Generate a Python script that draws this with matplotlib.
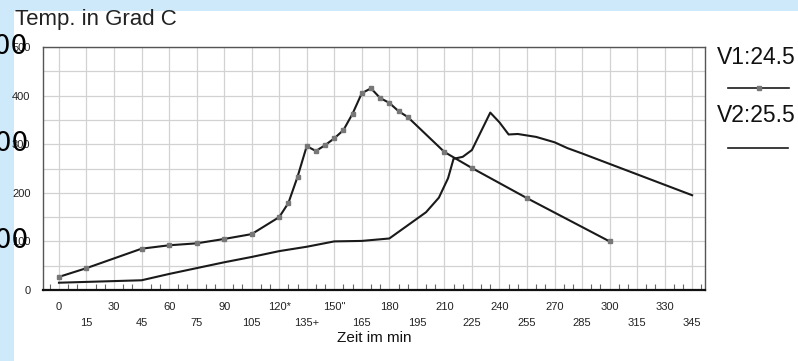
import numpy as np
import matplotlib.pyplot as plt
from matplotlib.patches import Rectangle
from matplotlib.ticker import MultipleLocator

# V1 (mit Punkten)
t1 = [0, 15, 45, 60, 75, 90, 105, 120, 125, 130, 135, 140, 145, 150, 155, 160,
      165, 170, 175, 180, 185, 190, 210, 225, 255, 300]
v1 = [27, 45, 85, 92, 96, 105, 115, 150, 179, 233, 296, 286, 298, 312, 329, 363,
      405, 415, 395, 385, 368, 356, 284, 251, 189, 100]

# V2 (ohne Punkte)
t2 = [0, 45, 60, 75, 90, 105, 120, 135, 150, 165, 180, 200, 207, 212, 215, 220,
      225, 235, 240, 245, 250, 260, 270, 277, 285, 345]
v2 = [15, 20, 33, 45, 57, 68, 80, 89, 100, 101, 106, 160, 190, 230, 270, 274,
      288, 365, 345, 320, 321, 315, 304, 292, 281, 195]

x_ticks = list(range(0, 346, 15))
x_labels = ['0', '15', '30', '45', '60', '75', '90', '105', '120*', '135+', '150"',
            '165', '180', '195', '210', '225', '240', '255', '270', '285', '300',
            '315', '330', '345']
y_ticks = [0, 100, 200, 300, 400, 500]
big_labels = ['500', '300', '100']

fig = plt.figure(figsize=(7.98, 3.61), dpi=100, facecolor='#cde9fa')
fig.patches.append(Rectangle((14 / 798, 0), 1, 350 / 361, transform=fig.transFigure,
                             facecolor='white', edgecolor='none', zorder=-5))

ax = fig.add_axes([43 / 798, 71 / 361, 662 / 798, 243 / 361])
ax.set_facecolor('white')

ax.plot(t1, v1, color='#1a1a1a', lw=1.5, marker='s', ms=2.5,
        mfc='#777777', mec='#777777')
ax.plot(t2, v2, color='#1a1a1a', lw=1.5)

ax.set_xlim(-8.7, 352)
ax.set_ylim(0, 500)

ax.set_xticks(x_ticks)
ax.set_xticklabels([l if i % 2 == 0 else '\n' + l for i, l in enumerate(x_labels)],
                   family='Liberation Sans', fontsize=8, color='#222222', linespacing=1.75)
ax.xaxis.set_minor_locator(MultipleLocator(5))
ax.tick_params(axis='x', which='major', length=0, pad=9)
ax.tick_params(axis='x', which='minor', direction='in', length=4, color='#666666', width=0.8)

ax.set_yticks(y_ticks)
ax.set_yticklabels([str(v) for v in y_ticks], family='Liberation Sans', fontsize=8,
                   color='#222222')
ax.yaxis.set_minor_locator(MultipleLocator(50))
ax.tick_params(axis='y', which='both', length=0, pad=9)

ax.grid(True, which='major', color='#d2d2d2', lw=0.9)
ax.grid(True, which='minor', axis='y', color='#d2d2d2', lw=0.9)
ax.set_axisbelow(True)

for s in ['left', 'top', 'right']:
    ax.spines[s].set_color('#555555')
    ax.spines[s].set_linewidth(1.0)
ax.spines['bottom'].set_color('#111111')
ax.spines['bottom'].set_linewidth(1.6)

fig.text(15 / 798, 1 - 19 / 361, 'Temp. in Grad C', family='Liberation Sans',
         fontsize=16, color='#222222', va='center', ha='left')
ax.set_xlabel('Zeit im min', family='Liberation Sans', fontsize=11, color='#111111',
              labelpad=2)

# Legende rechts
fig.text(756 / 798, 1 - 57 / 361, 'V1:24.5', family='Liberation Sans', fontsize=16.5,
         color='#111111', ha='center', va='center')
fig.text(756 / 798, 1 - 115 / 361, 'V2:25.5', family='Liberation Sans', fontsize=16.5,
         color='#111111', ha='center', va='center')
fig.add_artist(plt.Line2D([728 / 798, 789 / 798], [1 - 88 / 361, 1 - 88 / 361],
                          color='#1a1a1a', lw=1.2))
fig.add_artist(plt.Line2D([759 / 798], [1 - 88 / 361], marker='s', ms=2.5,
                          color='#777777', lw=0))
fig.add_artist(plt.Line2D([728 / 798, 788 / 798], [1 - 148 / 361, 1 - 148 / 361],
                          color='#1a1a1a', lw=1.2))

# grosse ueberlagerte Beschriftungen am linken Rand
for lab, yv in zip(big_labels, [500, 300, 100]):
    yf = fig.transFigure.inverted().transform(ax.transData.transform((0, yv)))[1]
    fig.text(28 / 798, yf, lab, family='DejaVu Sans', fontsize=19, color='black',
             ha='right', va='center')

fig.savefig('out.png', dpi=100, facecolor=fig.get_facecolor())
